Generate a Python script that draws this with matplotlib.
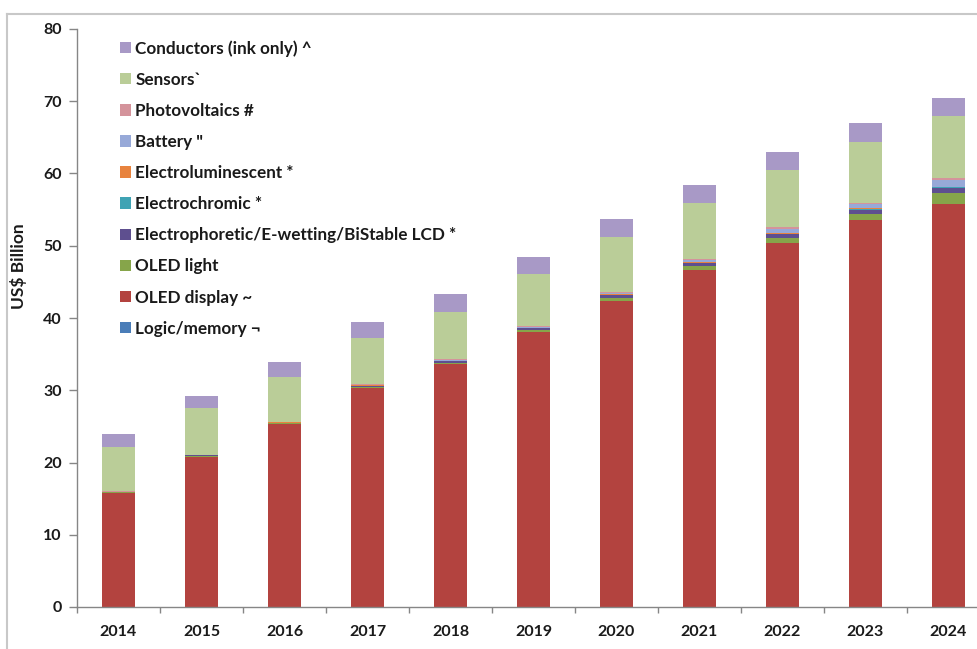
import matplotlib
matplotlib.use("Agg")
import matplotlib.pyplot as plt
import numpy as np
from matplotlib.lines import Line2D

plt.rcParams['font.family'] = ['Lato', 'DejaVu Sans']
plt.rcParams['font.weight'] = 'bold'

# data (US$ billion)
years = ['2014', '2015', '2016', '2017', '2018', '2019', '2020', '2021', '2022', '2023', '2024']
logic_memory = [0.01, 0.01, 0.01, 0.01, 0.01, 0.01, 0.02, 0.02, 0.02, 0.03, 0.03]
oled_display = [15.8, 20.8, 25.3, 30.3, 33.6, 38.0, 42.4, 46.6, 50.3, 53.5, 55.8]
oled_light = [0.05, 0.08, 0.1, 0.15, 0.2, 0.3, 0.4, 0.6, 0.8, 0.9, 1.5]
electrophoretic = [0.05, 0.08, 0.1, 0.15, 0.2, 0.25, 0.35, 0.4, 0.45, 0.55, 0.65]
electrochromic = [0.01, 0.01, 0.02, 0.02, 0.03, 0.04, 0.05, 0.06, 0.08, 0.1, 0.12]
electroluminescent = [0.02, 0.02, 0.03, 0.03, 0.04, 0.05, 0.06, 0.07, 0.08, 0.1, 0.1]
battery = [0.02, 0.03, 0.05, 0.07, 0.1, 0.15, 0.2, 0.3, 0.6, 0.6, 0.9]
photovoltaics = [0.05, 0.05, 0.06, 0.07, 0.08, 0.1, 0.1, 0.15, 0.2, 0.2, 0.3]
sensors = [6.2, 6.4, 6.2, 6.4, 6.6, 7.2, 7.6, 7.7, 7.9, 8.4, 8.5]
conductors = [1.8, 1.7, 2.1, 2.2, 2.4, 2.3, 2.5, 2.5, 2.5, 2.6, 2.6]

series = [
    ('Logic/memory \u00ac', logic_memory, '#4A7DB8'),
    ('OLED display ~', oled_display, '#B3433F'),
    ('OLED light', oled_light, '#86A54A'),
    ('Electrophoretic/E-wetting/BiStable LCD *', electrophoretic, '#5E4F8F'),
    ('Electrochromic *', electrochromic, '#3FA3B4'),
    ('Electroluminescent *', electroluminescent, '#E8833E'),
    ('Battery "', battery, '#97A9D8'),
    ('Photovoltaics #', photovoltaics, '#D4939B'),
    ('Sensors`', sensors, '#BACD98'),
    ('Conductors (ink only) ^', conductors, '#A899C6'),
]

W, H = 977, 649
fig = plt.figure(figsize=(W / 100, H / 100), dpi=100)
ax = fig.add_axes([77 / W, 42 / H, 913 / W, 578 / H])

x = np.arange(len(years))
bottom = np.zeros(len(years))
handles = []
for name, vals, col in series:
    b = ax.bar(x, vals, 0.4, bottom=bottom, color=col, label=name, linewidth=0)
    handles.append(b)
    bottom += np.array(vals)

ax.set_xlim(-0.5, len(years) - 0.5)
ax.set_ylim(0, 80)
ax.set_yticks(range(0, 81, 10))
ax.set_xticks(x)
ax.set_xticklabels(years)
ax.set_xticks(np.arange(-0.5, len(years), 1), minor=True)

txt = '#1a1a1a'
ax.tick_params(axis='y', length=6, width=1, color='#868686', pad=5,
               labelsize=11.5, labelcolor=txt)
ax.tick_params(axis='x', which='major', length=0, pad=13,
               labelsize=11.5, labelcolor=txt)
ax.tick_params(axis='x', which='minor', length=4, width=1, color='#868686')

for s in ['top', 'right']:
    ax.spines[s].set_visible(False)
for s in ['left', 'bottom']:
    ax.spines[s].set_color('#868686')
    ax.spines[s].set_linewidth(1)

ax.set_ylabel('US$ Billion', fontsize=12.5, color=txt, fontweight='bold')
ax.yaxis.set_label_coords(-50 / 913, 0.59)

leg = fig.legend(handles[::-1], [s[0] for s in series][::-1],
                 loc='upper left', bbox_to_anchor=(120 / W, 1 - 40 / H),
                 frameon=False, fontsize=12.3, handlelength=0.65,
                 handleheight=0.65, handletextpad=0.25, labelspacing=0.885,
                 borderpad=0, borderaxespad=0)
for t in leg.get_texts():
    t.set_color(txt)

# outer chart border (only top and left visible in the crop)
fig.add_artist(Line2D([7 / W, 1], [1 - 14 / H, 1 - 14 / H], color='#C8C8C8', lw=1.5))
fig.add_artist(Line2D([7 / W, 7 / W], [0, 1 - 14 / H], color='#C8C8C8', lw=1.5))

fig.savefig('out.png', dpi=100)
